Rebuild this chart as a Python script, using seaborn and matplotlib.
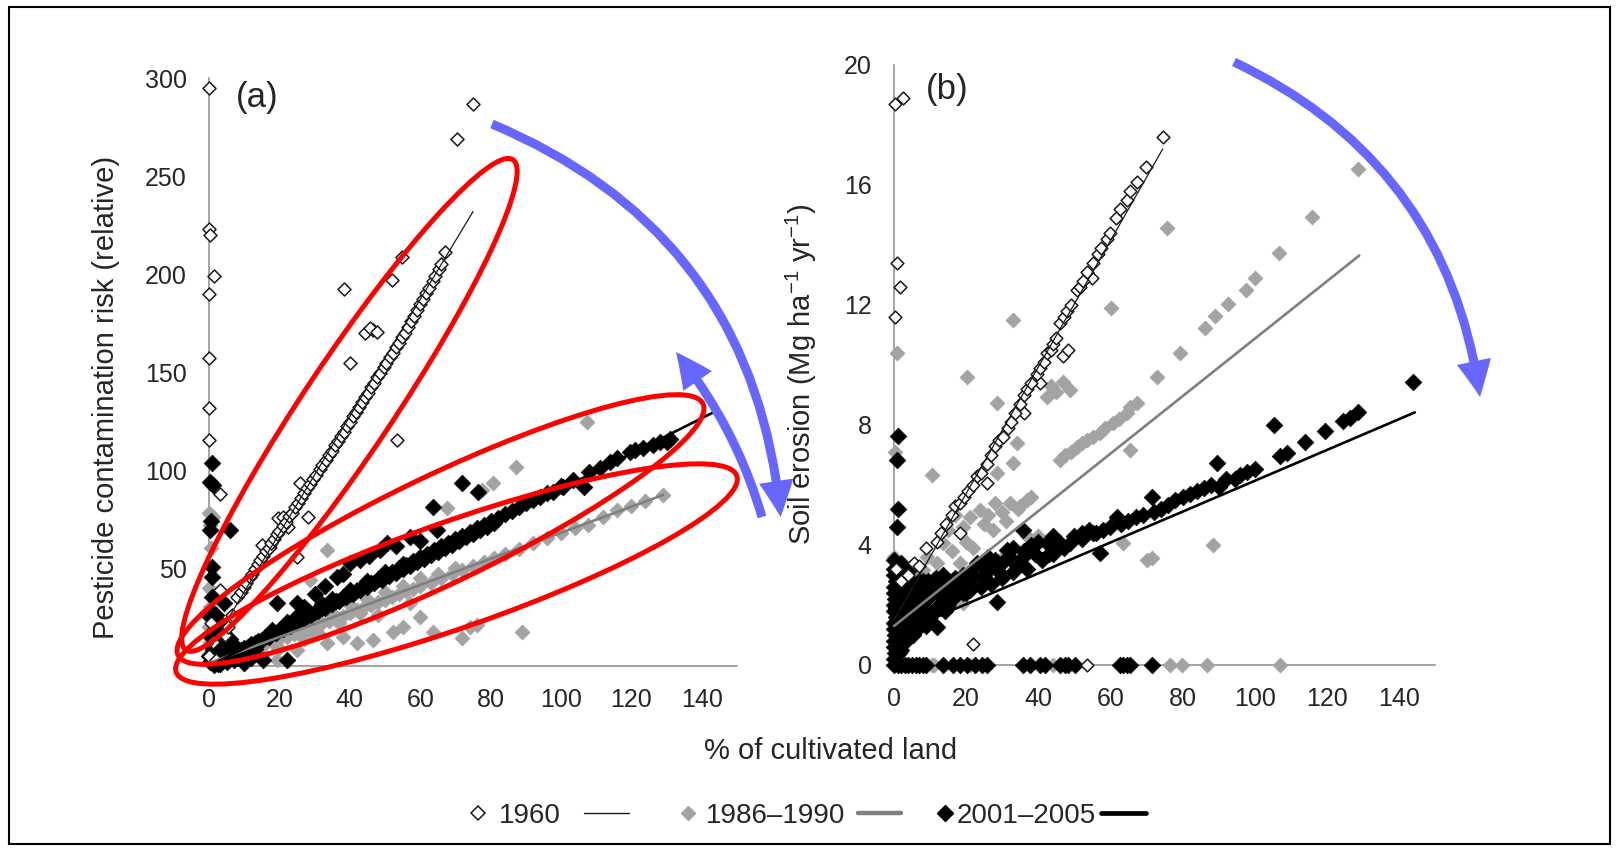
import matplotlib
matplotlib.use("Agg")
import matplotlib.pyplot as plt
import seaborn as sns
from matplotlib.patches import Ellipse, FancyArrowPatch, Rectangle, ArrowStyle
from matplotlib.lines import Line2D
from matplotlib.transforms import IdentityTransform

# ---------------------------------------------------------------- data
# Panel (a): pesticide contamination risk vs % of cultivated land
a1960_x = [0, 0, 0.4, 1.5, 0, 0, 0, 0, 3.1, 3.1, 0.5, 1.2, 0, 2, 4.5, 5.5, 6.5,
           75, 70.5, 38.2, 54.7, 51.9, 44.3, 46.7, 45.7, 47.6, 40, 53.3, 25.9, 28.2,
           19.7, 21.1, 22.5, 17.3, 15, 24.9, 13.6,
           8.0, 9.0, 9.8, 10.6, 11.5, 12.2, 13.0, 13.9, 14.6, 15.4, 16.1, 16.9, 17.7,
           18.4, 19.2, 20.0, 20.9, 21.8, 22.7, 23.5, 24.4, 25.3, 26.2, 27.0, 27.9,
           28.8, 29.6, 30.5, 31.4, 32.2, 33.1, 34.0, 34.8, 35.7, 36.6, 37.4, 38.3,
           39.2, 40.0, 40.9, 41.8, 42.6, 43.5, 44.4, 45.2, 46.1, 47.0, 47.8, 48.7,
           49.6, 50.4, 51.3, 52.2, 53.0, 53.9, 54.8, 55.6, 56.5, 57.4, 58.2, 59.1,
           60.0, 60.9, 61.7, 62.6, 63.5, 64.3, 65.2, 66.0, 67.0]
a1960_y = [295, 223, 220, 199, 190, 157, 131.5, 115.4, 88, 38.8, 22, 12, 5, 3, 16, 20, 26,
           287, 269, 192.3, 209, 197, 170, 171.5, 172.4, 170.6, 154.5, 115.4, 93.3, 76.2,
           75.4, 76.2, 71.1, 60.9, 61.8, 55.8, 50.7,
           35.0, 37.8, 40.5, 42.4, 45.3, 47.0, 49.6, 52.0, 54.1, 55.9, 58.6, 60.3, 63.0,
           64.6, 67.2, 68.8, 71.7, 73.5, 76.4, 78.3, 81.0, 83.4, 85.6, 88.3, 90.8,
           92.9, 95.6, 97.6, 100.6, 102.5, 105.3, 107.9, 109.6, 112.6, 114.7, 117.5, 119.6,
           122.6, 124.3, 127.4, 129.5, 132.0, 134.6, 137.2, 139.3, 142.4, 144.6, 147.3, 149.8,
           152.5, 154.6, 157.6, 159.9, 162.8, 165.0, 168.1, 170.2, 173.3, 175.9, 178.6, 181.5,
           184.6, 187.3, 190.2, 193.1, 196.4, 199.0, 202.6, 205.3, 211.5]

a1986_x = [0, 0.3, 1.2, 0.5, 0, 0.4, 0, 0.3, 0, 1, 2, 3, 4,
           107.3, 87.2, 80.8, 77.5, 67.5, 88.8, 71.8, 76, 74.1, 63.7, 52.4, 46.7, 42,
           33.4, 29.6, 24.9, 19.2, 33.4, 28.7, 38, 55, 60, 10, 15, 20,
           5, 8, 10, 12, 14, 16, 18, 20, 22, 24, 26, 28, 30, 32, 34, 36, 38, 40, 42,
           44, 46, 48, 50, 52, 54, 56, 58, 60, 63, 66, 69, 72, 75, 78, 81, 84, 88,
           92, 96, 100, 104, 107.7, 112, 116, 120, 124, 129,
           35, 45, 55, 25, 30, 40, 50, 60, 65, 70, 37, 43, 27, 31, 48, 57]
a1986_y = [78, 72, 76.2, 60, 40, 30, 20, 12, 6, 2, 4, 5, 3,
           124.4, 101.7, 93.3, 89.8, 80.5, 17.5, 14.1, 20.9, 20, 17.5, 17.5, 13.3, 11.6,
           11.6, 17.5, 8.2, 3.1, 59.2, 43.9, 15, 20, 25, 1, 5, 9,
           3.6, 5.4, 7.0, 8.1, 9.7, 11.0, 12.1, 13.8, 14.9, 16.5, 17.6, 19.2, 20.3, 21.9,
           23.0, 24.6, 25.7, 27.3, 28.4, 30.0, 31.1, 32.7, 33.8, 35.4, 36.5, 38.1, 39.2,
           40.8, 42.6, 44.9, 46.8, 49.2, 50.9, 53.2, 55.0, 57.3, 59.6, 62.6, 65.1, 68.0,
           70.5, 72, 76.2, 79.6, 81.6, 84.3, 87.3,
           27, 34, 41, 20, 24, 31, 38, 45, 47, 50, 22, 27, 14, 17, 26, 32]

a2001_x = [0.8, 0.3, 1.2, 0.5, 0.3, 6, 0.8, 0.8, 0.8, 0.3, 0, 0.5, 0, 0.4, 1.5, 3, 2.5,
           4.1, 3.2, 5, 6, 4, 7, 15.4, 22, 10, 12,
           19.2, 24.9, 27, 30, 33, 36.3, 40, 42.9, 45.5, 48.6, 50.5, 53, 57.1, 63.7, 64.7,
           71.8, 76.5, 60, 38,
           25, 35, 45, 55, 28, 40, 50, 32, 22, 18,
           3, 4, 5, 6, 7, 8, 9, 10, 11, 12, 13, 14, 15, 16, 17, 18, 19, 20, 21, 22, 23,
           24, 25, 26, 27, 28, 29, 30, 31, 32, 33, 34, 35, 36, 37, 38, 39, 40, 41, 42,
           43, 44, 45, 46, 47, 48, 49, 50, 51, 52, 53, 54, 55, 56, 57, 58, 59, 60, 61,
           62, 63, 64, 65, 66, 67, 68, 69, 70, 71, 72, 73, 74, 75, 76, 77, 78, 79, 80,
           81, 82, 84, 86, 88, 90, 92, 94, 96, 97.8, 100, 100.7, 103.5, 106.4, 108,
           111, 113.9, 116, 119.6, 121, 123.4, 126.2, 128, 130, 131,
           1, 2, 3, 4, 5, 6, 8, 1.5, 2.5, 3.5, 7, 9, 11, 13, 0.5, 2, 4]
a2001_y = [103.5, 94, 92.4, 74, 69.4, 69.4, 50.7, 45.6, 35.4, 25.2, 16, 10, 5, 2, 0.5, 1, 6,
           32, 22, 14, 9, 4, 3, 3.1, 3.1, 1.5, 4,
           32, 32, 30, 37, 41, 45.6, 52.4, 54.1, 56, 59.2, 62.6, 61, 66, 81.3, 69.4,
           93.3, 89, 64, 47,
           25.5, 34, 43.5, 52, 28, 39, 48, 31.5, 22.5, 18.5,
           3.5, 4.4, 5.0, 6.1, 6.3, 7.5, 8.0, 9.4, 9.7, 11.2, 11.5, 13.0, 13.4, 14.8,
           15.0, 16.7, 16.9, 18.5, 18.8, 20.4, 20.6, 22.3, 22.4, 24.0, 24.2, 26.0, 26.1,
           27.8, 27.9, 29.8, 29.6, 31.5, 31.4, 33.3, 33.2, 35.1, 35.0, 36.9, 36.8, 38.8,
           38.6, 40.6, 40.4, 42.5, 42.2, 44.3, 44.0, 46.2, 45.8, 48.0, 47.6, 49.9, 49.4,
           51.7, 51.2, 53.6, 53.0, 55.4, 54.8, 57.3, 56.6, 59.1, 58.4, 61.0, 60.2, 62.8,
           62.0, 64.7, 63.8, 66.5, 65.6, 68.4, 67.4, 70.2, 69.2, 72.1, 71.0, 73.9, 72.8,
           75.8, 77.5, 79.3, 81.2, 83.0, 84.9, 86.4, 88.5, 89, 91.9, 91.5, 94.9, 91.5,
           98.8, 100.9, 104.3, 106.0, 109.4, 110.2, 111.1, 112.8, 114.1, 114.5, 116,
           8, 12, 6, 10, 2, 14, 4, 18, 1, 7, 10.5, 5, 6.5, 8.5, 28, 26, 20]

# fitted trend lines, panel (a)
a_fit_1960_x, a_fit_1960_y = [0, 75], [8, 232]
a_fit_1986_x, a_fit_1986_y = [0, 129], [1.5, 87.3]
a_fit_2001_x, a_fit_2001_y = [0, 143.3], [0, 129.5]

# Panel (b): soil erosion vs % of cultivated land
b1960_x = [0.3, 2.4, 0.7, 1.7, 0.3, 0.5, 2, 4, 5.5, 7, 9, 22, 53.4, 46.9, 48.3, 25.7,
           18.3, 40.5, 54.8, 36,
           11.8, 13, 14.5, 16, 17, 18.3, 19.5, 20.5, 22, 23, 24, 25.7, 27, 28, 29, 30.3,
           31.5, 32.5, 33.5, 34.9, 36, 37, 38, 39.6, 40.5, 41.5, 42.5, 43.5, 44.2, 45,
           46, 47, 48, 49, 50.7, 51.5, 52.5, 53.5, 55.3, 56.5, 57.5, 59, 60, 61.5, 62.7,
           64.5, 65.5, 67.3, 70, 74.7]
b1960_y = [18.7, 18.9, 13.4, 12.6, 11.6, 3.2, 2.8, 3.0, 3.4, 3.3, 3.9, 0.7, 0, 10.3, 10.5,
           6.06, 4.4, 9.4, 12.9, 8.4,
           4.1, 4.4, 4.7, 5.0, 5.3, 5.4, 5.6, 5.8, 6.0, 6.3, 6.4, 6.7, 7.0, 7.3, 7.5, 7.6,
           7.9, 8.1, 8.4, 8.7, 9.0, 9.2, 9.4, 9.7, 9.9, 10.1, 10.4, 10.5, 10.7, 10.9,
           11.4, 11.6, 11.8, 12.0, 12.5, 12.6, 12.8, 13.1, 13.4, 13.7, 13.9, 14.2, 14.4,
           14.9, 15.2, 15.5, 15.8, 16.1, 16.6, 17.6]

b1986_x = [0.7, 0.3, 0, 0.5, 0, 1.5,
           46, 47.5, 49, 50.6, 52, 53.5, 55.3, 57, 58.5, 60.8, 62.5, 64.5, 65.5, 67.3,
           72.8, 79.3, 86.2, 89, 92.7, 97.5, 100, 106.7, 116, 128.7, 75.8, 88.5, 70.2,
           48.8, 46.9, 42.3, 43.5, 45, 20.2, 28.5, 34, 33.1, 28.5, 10.5, 65.4, 71.4, 63.6,
           33.1, 60.3,
           21, 23.8, 32.2, 36.8, 27.5, 13.7, 8.1, 4.4, 18.3, 9.1, 14.6, 29.4, 19.2, 12,
           16, 20, 22, 25, 26, 30, 35, 24, 11, 6, 7, 15, 17, 19, 28, 31, 34.5, 38, 37,
           40, 2.5, 3.5,
           10.4, 11.2, 21, 25.7, 76.5, 79.8, 86.7, 107, 38, 44]
b1986_y = [10.4, 7.1, 3.6, 2.0, 1.0, 1.7,
           6.83, 7.0, 7.1, 7.28, 7.4, 7.5, 7.61, 7.75, 7.9, 8.06, 8.2, 8.39, 8.6, 8.72,
           9.61, 10.39, 11.23, 11.64, 12.02, 12.49, 12.9, 13.74, 14.93, 16.52, 14.58, 4.0, 3.51,
           9.17, 9.44, 8.94, 9.3, 9.1, 9.61, 8.72, 7.39, 6.72, 6.39, 6.33, 7.17, 3.56, 4.06,
           11.5, 11.9,
           4.94, 5.17, 5.39, 5.5, 4.5, 4.06, 3.17, 2.5, 3.39, 3.61, 2.83, 3.5, 2.06, 3.4,
           3.8, 4.1, 3.9, 4.7, 5.0, 5.1, 5.3, 3.0, 2.9, 2.2, 3.0, 4.5, 5.0, 4.6, 5.4, 4.8,
           5.2, 5.6, 4.3, 4.3, 2.3, 2.7,
           0, 0, 0, 0, 0, 0, 0, 0, 0, 0]

b2001_x = [1.2, 0.7, 1.2, 0.7, 0, 0, 0, 0.5, 0, 0, 0.3, 0, 0, 0.6, 0, 0, 0.4, 0, 0,
           0.2, 0, 1, 2, 3, 1.5, 2.5, 3.5, 1, 2, 4, 3, 2, 1, 5, 4.5, 6, 7, 3, 1.5,
           0, 1, 2, 3, 4, 5, 6, 7, 8, 9, 13.7, 16.4, 18.3, 20.2, 22.5, 24.4, 25.7, 35.9,
           37.7, 40.5, 41.9, 46, 47.4, 48.3, 50.2, 62.7, 63.6, 64.5, 65.4, 71.4,
           5, 6, 7, 8, 9, 10, 11.8, 12, 13, 14, 15, 16.4, 17, 18, 19, 20, 21, 22, 24.8,
           25, 26, 27, 28.5, 28, 30, 31.2, 32, 33, 35.9, 35.9, 36, 38, 40, 42.3, 44, 45,
           46, 48.8, 50, 52, 54, 55.3, 57.1, 58, 60, 61.7, 63, 65, 67, 69, 71.4, 72, 74,
           76, 78, 80, 82, 84, 86, 88, 89.5, 90, 92, 94.5, 96, 98, 100.1, 105.4, 107,
           108.9, 114, 119.5, 124.6, 126.4, 128.7, 144,
           10, 12, 14, 8, 9, 11, 15, 17, 19, 21, 23, 26, 29, 34, 39, 43, 47, 52, 56,
           0.5, 1.5, 2.5, 3.5, 4.5, 0.8, 1.8, 2.8, 3.8, 5.5, 6.5, 7.5, 8.5, 9.5, 10.5,
           11.5, 12.5, 13.5, 2.2, 3.2, 4.2, 5.2, 6.2, 7.2, 1.2, 2.6, 4.8, 6.8, 8.8, 10.8,
           13, 16, 20, 24, 27, 30, 33, 37, 41, 44]
b2001_y = [7.63, 6.83, 5.2, 4.61, 3.5, 3.2, 3.0, 2.8, 2.6, 2.4, 2.2, 2.0, 1.8, 1.6, 1.4,
           1.2, 1.0, 0.8, 0.6, 0.4, 0.2, 3.3, 3.4, 3.1, 2.5, 2.0, 1.5, 1.0, 0.5, 2.6, 2.2,
           1.2, 2.9, 2.0, 3.2, 2.4, 2.8, 0.9, 0.4,
           0, 0, 0, 0, 0, 0, 0, 0, 0, 0, 0, 0, 0, 0, 0, 0, 0, 0,
           0, 0, 0, 0, 0, 0, 0, 0, 0, 0, 0, 0,
           1.5, 1.8, 2.0, 1.6, 2.2, 2.3, 1.28, 2.4, 2.6, 2.3, 2.7, 2.39, 2.9, 2.6, 3.0,
           2.8, 3.1, 2.9, 3.28, 3.0, 3.2, 3.4, 2.11, 3.5, 3.4, 3.83, 3.6, 3.9, 3.61, 4.5,
           3.8, 4.0, 4.1, 4.06, 4.3, 4.1, 4.06, 4.06, 4.3, 4.4, 4.5, 4.39, 3.72, 4.5, 4.6,
           4.94, 4.7, 4.8, 4.95, 5.0, 5.61, 5.1, 5.2, 5.35, 5.5, 5.6, 5.7, 5.8, 5.9, 6.0,
           6.72, 5.93, 6.2, 6.2, 6.35, 6.45, 6.55, 7.99, 6.98, 7.08, 7.45, 7.8, 8.15, 8.25,
           8.42, 9.42,
           1.6, 1.9, 1.8, 2.8, 1.3, 2.7, 2.0, 2.3, 2.4, 2.5, 3.4, 3.6, 3.1, 3.3, 3.7, 3.7,
           3.9, 4.2, 4.4,
           1.9, 2.7, 1.1, 2.3, 1.7, 3.0, 0.7, 1.6, 2.9, 2.6, 1.2, 2.5, 1.9, 2.8, 1.7,
           2.9, 2.0, 3.0, 2.4, 0.8, 2.0, 1.0, 2.4, 1.3, 2.4, 1.9, 2.3, 2.5, 1.4, 2.6,
           1.9, 2.2, 2.4, 2.6, 2.7, 2.9, 3.1, 3.2, 3.5, 3.7]

# fitted trend lines, panel (b)
b_fit_1960_x, b_fit_1960_y = [0, 74.5], [1.5, 17.2]
b_fit_1986_x, b_fit_1986_y = [0, 129], [1.3, 13.65]
b_fit_2001_x, b_fit_2001_y = [0, 144.4], [1.0, 8.42]

legend_labels = ["1960", "1986\u20131990", "2001\u20132005"]
a_yticks = [50, 100, 150, 200, 250, 300]
b_yticks = [0, 4, 8, 12, 16, 20]
xticks = [0, 20, 40, 60, 80, 100, 120, 140]

# ---------------------------------------------------------------- style
sns.set_style("white")
plt.rcParams["font.family"] = ["Liberation Sans", "DejaVu Sans"]
plt.rcParams["mathtext.fontset"] = "custom"
plt.rcParams["mathtext.rm"] = "Liberation Sans"
plt.rcParams["mathtext.it"] = "Liberation Sans:italic"

W, H = 1618, 849
TXT = "#262626"
AXC = "#8c8c8c"
GREY_PT = "#a3a3a3"
GREY_LN = "#7f7f7f"
RED = "#ff0000"
BLUE = "#6767ff"
PIX = IdentityTransform()

fig = plt.figure(figsize=(W / 100, H / 100), dpi=100)
fig.patch.set_facecolor("white")


def box(x0, x1, y_top, y_bot):
    return [x0 / W, 1 - y_bot / H, (x1 - x0) / W, (y_bot - y_top) / H]


ax_a = fig.add_axes(box(195, 737, 78.3, 677.75))
ax_b = fig.add_axes(box(879.6, 1435, 65, 677))


def draw_panel(ax, s60, s86, s01, fits, sizes):
    x60, y60 = s60
    x86, y86 = s86
    x01, y01 = s01
    sns.scatterplot(x=x86, y=y86, marker="D", s=sizes[1], color=GREY_PT,
                    edgecolor=GREY_PT, linewidth=0.5, ax=ax, zorder=3,
                    clip_on=False, legend=False)
    sns.scatterplot(x=x01, y=y01, marker="D", s=sizes[2], color="black",
                    edgecolor="black", linewidth=0.5, ax=ax, zorder=4,
                    clip_on=False, legend=False)
    sns.scatterplot(x=x60, y=y60, marker="D", s=sizes[0], color="white",
                    edgecolor="#1a1a1a", linewidth=1.1, ax=ax, zorder=5,
                    clip_on=False, legend=False)
    (f60, f86, f01) = fits
    sns.lineplot(x=f60[0], y=f60[1], color="#1a1a1a", linewidth=0.9, ax=ax,
                 sort=False, estimator=None, zorder=6, legend=False)
    sns.lineplot(x=f86[0], y=f86[1], color=GREY_LN, linewidth=1.9, ax=ax,
                 sort=False, estimator=None, zorder=6, legend=False)
    sns.lineplot(x=f01[0], y=f01[1], color="black", linewidth=1.9, ax=ax,
                 sort=False, estimator=None, zorder=6, legend=False)


draw_panel(ax_a, (a1960_x, a1960_y), (a1986_x, a1986_y), (a2001_x, a2001_y),
           ((a_fit_1960_x, a_fit_1960_y), (a_fit_1986_x, a_fit_1986_y),
            (a_fit_2001_x, a_fit_2001_y)), (44, 58, 72))
draw_panel(ax_b, (b1960_x, b1960_y), (b1986_x, b1986_y), (b2001_x, b2001_y),
           ((b_fit_1960_x, b_fit_1960_y), (b_fit_1986_x, b_fit_1986_y),
            (b_fit_2001_x, b_fit_2001_y)), (42, 58, 72))

for ax, ylo, ytop, yt in ((ax_a, -6, 300, a_yticks), (ax_b, -0.4, 20, b_yticks)):
    ax.set_xlim(-4, 150)
    ax.set_ylim(ylo, ytop)
    ax.set_xticks(xticks)
    ax.set_yticks(yt)
    ax.set_xlabel("")
    ax.set_ylabel("")
    ax.patch.set_alpha(0)
    for side in ("top", "right"):
        ax.spines[side].set_visible(False)
    ax.spines["left"].set_position(("data", 0))
    ax.spines["bottom"].set_position(("data", 0))
    ax.spines["left"].set_bounds(0, ytop)
    ax.spines["bottom"].set_bounds(-2, 150)
    for side in ("left", "bottom"):
        ax.spines[side].set_color(AXC)
        ax.spines[side].set_linewidth(1.1)
        ax.spines[side].set_zorder(2)
    ax.tick_params(axis="both", direction="out", length=6, width=1.0, color=AXC,
                   labelsize=18, labelcolor=TXT, pad=10)

# ---------------------------------------------------------------- text
fig.text(831 / W, 1 - 759 / H, "% of cultivated land", ha="center",
         va="baseline", size=21, color=TXT)
fig.text(106 / W, 1 - 397 / H, "Pesticide contamination risk (relative)",
         rotation=90, ha="center", va="center", size=21, color=TXT)
fig.text(801 / W, 1 - 374 / H, r"Soil erosion (Mg ha$^{-1}$ yr$^{-1}$)",
         rotation=90, ha="center", va="center", size=21, color=TXT)
fig.text(256.7 / W, 1 - 98 / H, "(a)", ha="center", va="center", size=25, color=TXT)
fig.text(947.5 / W, 1 - 90 / H, "(b)", ha="center", va="center", size=25, color=TXT)

# ---------------------------------------------------------------- legend row
ly = H - 813
fig.add_artist(Line2D([478], [ly], marker="D", ms=6.8, mfc="white", mec="#1a1a1a",
                      mew=1.1, ls="none", transform=PIX))
fig.add_artist(Line2D([584, 629], [ly, ly], color="#1a1a1a", lw=1.0, transform=PIX))
fig.add_artist(Line2D([688], [ly], marker="D", ms=7.4, mfc=GREY_PT, mec=GREY_PT,
                      ls="none", transform=PIX))
fig.add_artist(Line2D([858, 901], [ly, ly], color=GREY_LN, lw=3.2, transform=PIX))
fig.add_artist(Line2D([945], [ly], marker="D", ms=8.0, mfc="black", mec="black",
                      ls="none", transform=PIX))
fig.add_artist(Line2D([1101, 1146], [ly, ly], color="black", lw=3.4, transform=PIX))
for xpos, lab in zip((499, 706, 957), legend_labels):
    fig.text(xpos / W, (ly - 10) / H, lab, ha="left", va="baseline", size=20, color=TXT)

# ---------------------------------------------------------------- highlights
for cx, cy, a, b, ang in ((349.4, 404.9, 294.7, 45, 56.3),
                          (440.5, 529.5, 291, 54, 25.6),
                          (456.5, 574, 297, 53, 19.3)):
    fig.add_artist(Ellipse((cx, H - cy), 2 * a, 2 * b, angle=ang, fill=False,
                           edgecolor=RED, lw=3.6, transform=PIX, zorder=20))

style = ArrowStyle.Simple(head_length=26, head_width=25, tail_width=6.5)
for (x1, y1), (x2, y2), rad in (((492, 124), (780.6, 517), -0.30),
                                 ((762, 517), (676, 352), 0.10),
                                 ((1234, 62), (1480, 397), -0.27)):
    fig.add_artist(FancyArrowPatch((x1, H - y1), (x2, H - y2), arrowstyle=style,
                                   connectionstyle=f"arc3,rad={rad}", color=BLUE,
                                   lw=0, shrinkA=0, shrinkB=0, mutation_scale=1,
                                   transform=PIX, zorder=21))

# outer frame
fig.add_artist(Rectangle((9, H - 844), 1601, 837, fill=False, edgecolor="black",
                         lw=1.5, transform=PIX, zorder=30))

fig.savefig("out.png", dpi=100, facecolor="white")
